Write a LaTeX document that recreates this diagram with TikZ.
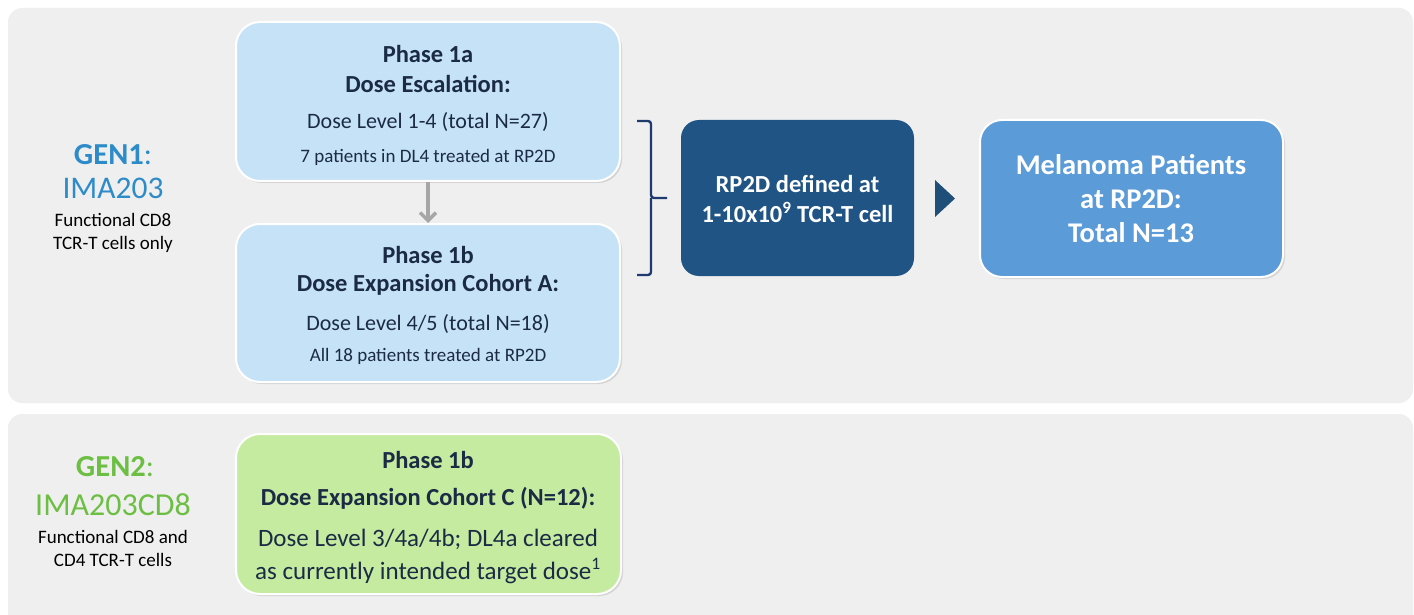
\documentclass[tikz,border=0pt]{standalone}
\usepackage{fontspec}
\setmainfont{Carlito}
\usetikzlibrary{shadows,arrows.meta}
\definecolor{panelbg}{HTML}{EFEFEF}
\definecolor{lightbox}{HTML}{C5E2F6}
\definecolor{darkbox}{HTML}{1F5485}
\definecolor{midbox}{HTML}{5B9BD8}
\definecolor{greenbox}{HTML}{C5EBA0}
\definecolor{navytext}{HTML}{1C2B45}
\definecolor{genblue}{HTML}{2E8BC9}
\definecolor{gengreen}{HTML}{6DBF44}
\definecolor{bracketc}{HTML}{1F3A6E}
\definecolor{tric}{HTML}{1F4E79}
\definecolor{arrowgray}{HTML}{A6A6A6}
\tikzset{
  panel/.style={fill=panelbg, draw=none, rounded corners=14pt},
  phasebox/.style={draw=white, line width=2pt, rounded corners=24pt, drop shadow={opacity=0.25, shadow xshift=2pt, shadow yshift=-2pt}},
  txt/.style={inner sep=0pt, anchor=center, text=navytext},
  hd/.style={txt, font=\fontsize{24.5}{28}\selectfont\bfseries},
  body/.style={txt, font=\fontsize{22}{26}\selectfont},
  small/.style={txt, font=\fontsize{19}{22}\selectfont},
  gentxt/.style={inner sep=0pt, font=\fontsize{19}{22}\selectfont},
  genhd/.style={inner sep=0pt, font=\fontsize{30.5}{34}\selectfont},
}
\begin{document}
\begin{tikzpicture}[x=1pt,y=-1pt]
\useasboundingbox (0,0) rectangle (1414,615);
\fill[white] (0,0) rectangle (1414,615);
% panels
\path[panel] (8,8) rectangle (1413,403);
\path[panel] (8,414) rectangle (1413,640);

% left labels GEN1
\node[genhd, text=genblue] (gen1) at (113,155) {\textbf{GEN1}:};
\node[inner sep=0pt, text=genblue, font=\fontsize{31.5}{34}\selectfont] (ima1) at (113,188) {IMA203};
\node[gentxt] (f1a) at (113,220) {Functional CD8};
\node[gentxt] (f1b) at (113,244) {TCR-T cells only};

% left labels GEN2
\node[genhd, text=gengreen] (gen2) at (115,467) {\textbf{GEN2}:};
\node[inner sep=0pt, text=gengreen, font=\fontsize{32}{34}\selectfont] (ima2) at (113,505) {IMA203CD8};
\node[gentxt] (f2a) at (113,537) {Functional CD8 and};
\node[gentxt] (f2b) at (113,560) {CD4 TCR-T cells};

% boxes
\node[phasebox, fill=lightbox, minimum width=384pt, minimum height=159pt, inner sep=0pt] (b1) at (428,101.5) {};
\node[phasebox, fill=lightbox, minimum width=384pt, minimum height=158pt, inner sep=0pt] (b2) at (428,303) {};
\node[fill=darkbox, rounded corners=18pt, minimum width=233pt, minimum height=156pt, inner sep=0pt] (b3) at (797.5,198) {};
\node[phasebox, fill=midbox, rounded corners=22pt, minimum width=303pt, minimum height=157pt, inner sep=0pt] (b4) at (1131.5,198.5) {};
\node[phasebox, fill=greenbox, minimum width=385pt, minimum height=160pt, inner sep=0pt] (b5) at (428.5,514) {};

% box 1 text
\node[hd] (t11) at (428,54) {Phase 1a};
\node[hd] (t12) at (428,84) {Dose Escalation:};
\node[body] (t13) at (428,122) {Dose Level 1-4 (total N=27)};
\node[small] (t14) at (428,157) {7 patients in DL4 treated at RP2D};

% box 2 text
\node[hd] (t21) at (428,255) {Phase 1b};
\node[hd] (t22) at (428,285) {Dose Expansion Cohort A:};
\node[body] (t23) at (428,324) {Dose Level 4/5 (total N=18)};
\node[small] (t24) at (428,356) {All 18 patients treated at RP2D};

% dark box text
\node[txt, text=white, font=\fontsize{24.5}{28}\selectfont\bfseries] (t31) at (797.5,184) {RP2D defined at};
\node[txt, text=white, font=\fontsize{24.5}{28}\selectfont\bfseries] (t32) at (797.5,212) {1-10x10\textsuperscript{9} TCR-T cell};

% right box text
\node[txt, text=white, font=\fontsize{28.5}{32}\selectfont\bfseries] (t41) at (1131,165) {Melanoma Patients};
\node[txt, text=white, font=\fontsize{28.5}{32}\selectfont\bfseries] (t42) at (1131,199) {at RP2D:};
\node[txt, text=white, font=\fontsize{28.5}{32}\selectfont\bfseries] (t43) at (1131,233) {Total N=13};

% green box text
\node[hd] (t51) at (428,460) {Phase 1b};
\node[hd] (t52) at (428,498) {Dose Expansion Cohort C (N=12):};
\node[txt, font=\fontsize{25}{29}\selectfont] (t53) at (428,539) {Dose Level 3/4a/4b; DL4a cleared};
\node[txt, font=\fontsize{25}{29}\selectfont] (t54) at (428,571) {as currently intended target dose\textsuperscript{1}};

% gray arrow
\draw[arrowgray, line width=3.5pt, -{Straight Barb[length=8pt,width=16pt]}] (b1.south) -- (b2.north);

% bracket
\coordinate (brtop) at (637,121);
\coordinate (brbot) at (637,275);
\coordinate (brmid) at (667,198);
\draw[bracketc, line width=2.4pt, rounded corners=3pt] (brtop) -- (651,121) -- (651,198) -- (brmid);
\draw[bracketc, line width=2.4pt, rounded corners=3pt] (brbot) -- (651,275) -- (651,198);

% triangle
\fill[tric] (935,180) -- (955,198.5) -- (935,217) -- cycle;
\end{tikzpicture}
\end{document}
